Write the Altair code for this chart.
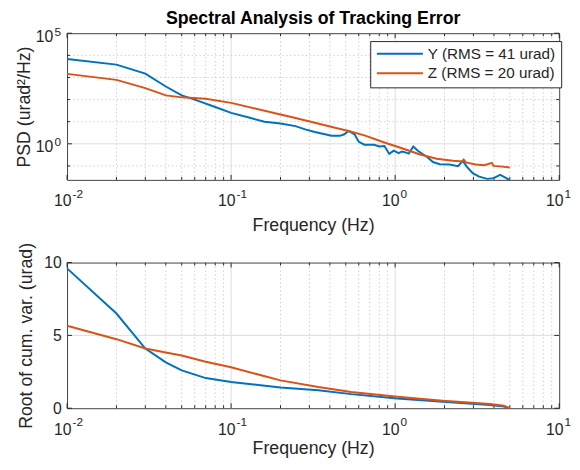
import altair as alt
import pandas as pd

FONT = "Liberation Sans"
TXT = "#262626"

series = ["Y (RMS = 41 urad)", "Z (RMS = 20 urad)"]
colors = ["#0072BD", "#D95319"]

# Top panel: PSD (urad^2/Hz)
y_psd_freq = [0.01, 0.02, 0.03, 0.04, 0.05, 0.06, 0.08, 0.1, 0.13, 0.16, 0.2, 0.247, 0.283,
              0.324, 0.373, 0.41, 0.46, 0.49, 0.52, 0.565, 0.60, 0.65, 0.745, 0.80, 0.86,
              0.92, 0.98, 1.05, 1.10, 1.13, 1.21, 1.29, 1.38, 1.56, 1.70, 1.87, 2.14, 2.42,
              2.58, 2.74, 2.97, 3.25, 3.65, 3.98, 4.37, 4.67, 5.0]
y_psd = [6900, 3800, 1500, 390, 155, 100, 46, 25, 15, 10, 8.3, 6.3, 4.5,
         3.4, 2.7, 2.3, 2.3, 2.7, 3.8, 2.7, 1.23, 0.91, 0.91, 0.76, 0.79,
         0.35, 0.49, 0.38, 0.45, 0.43, 0.36, 0.76, 0.47, 0.26, 0.15, 0.12, 0.117, 0.098,
         0.17, 0.091, 0.047, 0.033, 0.026, 0.028, 0.039, 0.030, 0.023]
z_psd_freq = [0.01, 0.02, 0.03, 0.04, 0.05, 0.07, 0.1, 0.2, 0.247, 0.324, 0.43, 0.52, 0.65,
              0.86, 1.10, 1.42, 1.79, 2.25, 2.58, 2.62, 2.70, 3.10, 3.50, 3.88, 3.98, 4.5, 5.0]
z_psd = [1450, 780, 330, 155, 126, 110, 71, 21, 14.8, 8.9, 5.3, 3.8, 2.4,
         1.15, 0.63, 0.33, 0.21, 0.17, 0.16, 0.19, 0.145, 0.117, 0.107, 0.138, 0.10, 0.093, 0.085]

# Bottom panel: root of cumulative variance (urad)
y_cum_freq = [0.01, 0.02, 0.03, 0.04, 0.05, 0.07, 0.1, 0.2, 0.34, 0.54, 1.03, 1.95, 3.8, 4.6, 5.0]
y_cum = [9.6, 6.5, 4.1, 3.15, 2.6, 2.07, 1.8, 1.42, 1.24, 0.97, 0.67, 0.45, 0.22, 0.12, 0.0]
z_cum_freq = [0.01, 0.02, 0.03, 0.04, 0.05, 0.07, 0.1, 0.2, 0.34, 0.54, 1.03, 1.95, 3.8, 4.6, 5.0]
z_cum = [5.66, 4.74, 4.1, 3.82, 3.62, 3.19, 2.81, 1.91, 1.46, 1.12, 0.79, 0.52, 0.29, 0.17, 0.0]

# Ticks
x_decades = [0.01, 0.1, 1, 10]
x_exponents = ["-2", "-1", "0", "1"]
x_minor = [0.02, 0.03, 0.04, 0.05, 0.06, 0.07, 0.08, 0.09,
           0.2, 0.3, 0.4, 0.5, 0.6, 0.7, 0.8, 0.9,
           2, 3, 4, 5, 6, 7, 8, 9]
x_major_inner = [0.1, 1]
psd_labeled = [1, 100000]
psd_exponents = ["0", "5"]
psd_minor = [0.1, 10, 100, 1000, 10000]
cum_ticks = [0, 5, 10]
cum_grid = [5]

W, H1, H2 = 500, 149, 148
XDOM = [0.01, 10]
PSD_DOM = [0.0234, 100000]

xscale = alt.Scale(type="log", domain=XDOM)
cscale = alt.Scale(domain=series, range=colors)


def long(freqs, vals, names):
    rows = []
    for fr, vs, nm in zip(freqs, vals, names):
        for a, b in zip(fr, vs):
            rows.append({"f": a, "v": b, "s": nm})
    return pd.DataFrame(rows)


psd_df = long([y_psd_freq, z_psd_freq], [y_psd, z_psd], series)
cum_df = long([y_cum_freq, z_cum_freq], [y_cum, z_cum], series)

xlab_df = pd.DataFrame({"f": x_decades, "base": ["10"] * 4, "exp": x_exponents})
xminor_df = pd.DataFrame({"f": x_minor})
xmajor_df = pd.DataFrame({"f": x_major_inner})
xall_df = pd.DataFrame({"f": x_decades})
psd_lab_df = pd.DataFrame({"v": psd_labeled, "base": ["10"] * 2, "exp": psd_exponents})
psd_minor_df = pd.DataFrame({"v": psd_minor})
cum_tick_df = pd.DataFrame({"v": cum_ticks})
cum_grid_df = pd.DataFrame({"v": cum_grid})

GRID_MAJ = "#dcdcdc"
GRID_MIN = "#cfcfcf"
DASH = [1.5, 2.5]


def x_axis(pad):
    return alt.Axis(labels=False, ticks=False, domain=False, grid=False,
                    title="Frequency (Hz)", titleFont=FONT, titleFontSize=18,
                    titleFontWeight="normal", titleColor=TXT, titlePadding=pad)


X_AXIS_TOP = x_axis(37)
X_AXIS_BOT = x_axis(32)
PSD_AXIS = alt.Axis(labels=False, ticks=False, domain=False, grid=False,
                    title="PSD (urad²/Hz)", titleFont=FONT, titleFontSize=18,
                    titleFontWeight="normal", titleColor=TXT, titlePadding=34)
CUM_AXIS = alt.Axis(values=cum_ticks, ticks=False, domain=False, grid=False,
                    labelFont=FONT, labelFontSize=16, labelColor=TXT, labelPadding=6,
                    title="Root of cum. var. (urad)", titleFont=FONT, titleFontSize=18,
                    titleFontWeight="normal", titleColor=TXT, titlePadding=8)


def x_common_layers(H, axis):
    def X():
        return alt.X("f:Q", scale=xscale, axis=axis)
    layers = []
    layers.append(alt.Chart(xminor_df).mark_rule(color=GRID_MIN, strokeDash=DASH, strokeWidth=1)
                  .encode(x=X()))
    layers.append(alt.Chart(xmajor_df).mark_rule(color=GRID_MAJ, strokeWidth=1)
                  .encode(x=X()))
    # inward ticks bottom/top
    for y0, y1, d in [(H, H - 3, xminor_df), (0, 3, xminor_df), (H, H - 5, xall_df), (0, 5, xall_df)]:
        layers.append(alt.Chart(d).mark_rule(color=TXT, strokeWidth=1)
                      .encode(x=X(), y=alt.value(y0), y2=alt.value(y1)))
    # x tick labels 10^n
    layers.append(alt.Chart(xlab_df).mark_text(align="right", baseline="alphabetic", dx=4.5,
                                               font=FONT, fontSize=16, color=TXT)
                  .encode(x=X(), y=alt.value(H + 27), text="base:N"))
    layers.append(alt.Chart(xlab_df).mark_text(align="left", baseline="alphabetic", dx=5.5,
                                               font=FONT, fontSize=12, color=TXT)
                  .encode(x=X(), y=alt.value(H + 18), text="exp:N"))
    return layers, X


# ---------- Top panel ----------
psd_scale = alt.Scale(type="log", domain=PSD_DOM)


def YP():
    return alt.Y("v:Q", scale=psd_scale, axis=PSD_AXIS)


top_layers, XT = x_common_layers(H1, X_AXIS_TOP)
top_layers.append(alt.Chart(psd_minor_df).mark_rule(color=GRID_MIN, strokeDash=DASH, strokeWidth=1)
                  .encode(y=YP()))
top_layers.append(alt.Chart(pd.DataFrame({"v": [1]})).mark_rule(color=GRID_MAJ, strokeWidth=1)
                  .encode(y=YP()))
for x0, x1, d, in [(0, 3, psd_minor_df), (W, W - 3, psd_minor_df),
                   (0, 5, psd_lab_df), (W, W - 5, psd_lab_df)]:
    top_layers.append(alt.Chart(d).mark_rule(color=TXT, strokeWidth=1)
                      .encode(y=YP(), x=alt.value(x0), x2=alt.value(x1)))
top_layers.append(alt.Chart(psd_lab_df).mark_text(align="right", baseline="alphabetic", dx=-14, dy=8.5,
                                                  font=FONT, fontSize=16, color=TXT)
                  .encode(y=YP(), x=alt.value(0), text="base:N"))
top_layers.append(alt.Chart(psd_lab_df).mark_text(align="right", baseline="alphabetic", dx=-6, dy=2.5,
                                                  font=FONT, fontSize=12, color=TXT)
                  .encode(y=YP(), x=alt.value(0), text="exp:N"))
top_layers.append(
    alt.Chart(psd_df).mark_line(strokeWidth=2, clip=True).encode(
        x=XT(),
        y=YP(),
        color=alt.Color("s:N", scale=cscale,
                        legend=alt.Legend(orient="none", legendX=308, legendY=8, title=None,
                                          symbolType="M-1,0H6.8", symbolSize=144, symbolStrokeWidth=2,
                                          labelFont=FONT, labelFontSize=15.5, labelColor=TXT,
                                          labelOffset=38, rowPadding=3, padding=5,
                                          strokeColor=TXT, fillColor="white", cornerRadius=0)),
        detail="s:N",
    )
)
top = alt.layer(*top_layers).properties(
    width=W, height=H1,
    title=alt.TitleParams("Spectral Analysis of Tracking Error", font=FONT, fontSize=18,
                          fontWeight="bold", color="black", anchor="middle", frame="group", offset=-2),
)

# ---------- Bottom panel ----------
cum_scale = alt.Scale(domain=[0, 10])


def YC():
    return alt.Y("v:Q", scale=cum_scale, axis=CUM_AXIS)


bot_layers, XB = x_common_layers(H2, X_AXIS_BOT)
bot_layers.append(alt.Chart(cum_grid_df).mark_rule(color=GRID_MAJ, strokeWidth=1)
                  .encode(y=YC()))
for x0, x1 in [(0, 5), (W, W - 5)]:
    bot_layers.append(alt.Chart(cum_tick_df).mark_rule(color=TXT, strokeWidth=1)
                      .encode(y=YC(), x=alt.value(x0), x2=alt.value(x1)))
bot_layers.append(
    alt.Chart(cum_df).mark_line(strokeWidth=2).encode(
        x=XB(),
        y=YC(),
        color=alt.Color("s:N", scale=cscale, legend=None),
        detail="s:N",
    )
)
bottom = alt.layer(*bot_layers).properties(width=W, height=H2)

chart = alt.vconcat(top, bottom, spacing=6).properties(
    padding={"left": 7, "top": -2, "right": 0, "bottom": 0}
).configure_view(stroke="#404040", strokeWidth=1)

chart.save("out.html", embed_options={"renderer": "svg", "actions": False})
